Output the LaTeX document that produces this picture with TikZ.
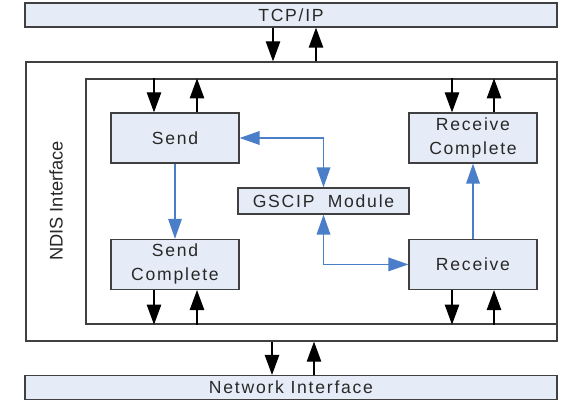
\documentclass[tikz,border=0pt]{standalone}
\usepackage{fontspec}
\setmainfont{Liberation Sans}
\newfontfamily\boxfont[LetterSpace=10]{Liberation Sans}
\definecolor{gsfill}{RGB}{230,236,247}
\definecolor{gsline}{RGB}{64,64,64}
\definecolor{gsblue}{RGB}{74,126,200}
\definecolor{gstext}{RGB}{40,40,40}
\usetikzlibrary{arrows.meta,positioning,calc}

\begin{document}
\begin{tikzpicture}[
  block/.style={rectangle, draw=gsline, line width=0.9pt, fill=gsfill,
                minimum width=3.2cm, minimum height=1.25cm, inner sep=0pt,
                font=\boxfont\fontsize{12.5}{17}\selectfont,
                align=center, text=gstext},
  bar/.style={block, minimum width=13.3cm, minimum height=0.6cm},
  frame/.style={rectangle, draw=gsline, line width=0.9pt, fill=white, inner sep=0pt},
  conn/.style={-{Triangle[length=0.5cm, width=0.36cm]}, line width=0.9pt, draw=black},
  flow/.style={-{Triangle[length=0.5cm, width=0.34cm]}, line width=1pt, draw=gsblue},
  flowboth/.style={flow, {Triangle[length=0.5cm, width=0.34cm]}-{Triangle[length=0.5cm, width=0.34cm]}}
]
\useasboundingbox (0,0) rectangle (14.125,10.1);

\node[bar] (tcp) at (7.275,9.725) {TCP/IP};
\node[bar] (net) at (7.275,0.41)  {Network Interface};

\node[frame, minimum width=13.275cm, minimum height=6.975cm] (ndis) at (7.2875,5.0625) {};
\node[frame, minimum width=11.775cm, minimum height=6.125cm] (core) at (8.0375,5.0625) {};
\node[rotate=90, font=\fontsize{13}{15}\selectfont, text=gstext] (ndislabel) at (1.4,5.075) {NDIS Interface};

\node[block] (send)  at (4.375,6.65)  {Send};
\node[block] (sendc) at (4.375,3.49)  {Send\\Complete};
\node[block] (recvc) at (11.825,6.65) {Receive\\Complete};
\node[block] (recv)  at (11.825,3.49) {Receive};
\node[block, minimum width=4.275cm, minimum height=0.65cm] (gscip) at (8.0875,5.075) {GSCIP\ \ Module};

\draw[conn] (6.825,0 |- tcp.south) -- (6.825,0 |- ndis.north);
\draw[conn] (7.9,0 |- ndis.north) -- (7.9,0 |- tcp.south);
\draw[conn] (6.8,0 |- ndis.south) -- (6.8,0 |- net.north);
\draw[conn] (7.85,0 |- net.north) -- (7.85,0 |- ndis.south);

\draw[conn] (3.85,0 |- core.north) -- (3.85,0 |- send.north);
\draw[conn] (4.925,0 |- send.north) -- (4.925,0 |- core.north);
\draw[conn] (11.3,0 |- core.north) -- (11.3,0 |- recvc.north);
\draw[conn] (12.35,0 |- recvc.north) -- (12.35,0 |- core.north);
\draw[conn] (3.85,0 |- sendc.south) -- (3.85,0 |- core.south);
\draw[conn] (4.925,0 |- core.south) -- (4.925,0 |- sendc.south);
\draw[conn] (11.3,0 |- recv.south) -- (11.3,0 |- core.south);
\draw[conn] (12.35,0 |- core.south) -- (12.35,0 |- recv.south);

\draw[flow] (send) -- (sendc);
\draw[flow] (recv) -- (recvc);
\draw[flowboth] (send.east) -| (gscip.north);
\draw[flowboth] (gscip.south) |- (recv.west);
\end{tikzpicture}
\end{document}
